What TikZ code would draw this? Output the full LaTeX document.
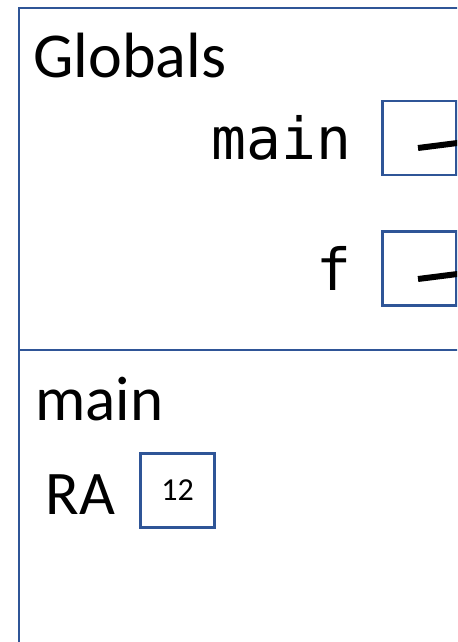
\documentclass[tikz,border=0pt]{standalone}
\usepackage{fontspec}
\setmainfont{Carlito}
\newfontfamily\monofuente{DejaVu Sans Mono}
\usetikzlibrary{positioning}
\definecolor{figMarco}{RGB}{47,85,151}
\tikzset{
  celda/.style={
    rectangle, draw=figMarco, line width=1.1pt,
    minimum width=37pt, minimum height=37pt, inner sep=0pt,
    font=\fontsize{16}{18}\selectfont
  },
  marco/.style={draw=figMarco, line width=1.4pt},
  etiqueta/.style={inner sep=0pt, font=\fontsize{32}{38}\selectfont},
  etiquetam/.style={inner sep=0pt, font=\monofuente\fontsize{29}{35}\selectfont},
  puntero/.style={line width=3pt, draw=black}
}
\begin{document}
\begin{tikzpicture}[x=0.5pt, y=-0.5pt, node distance=15pt]
  \useasboundingbox (0,0) rectangle (457,642);
  \clip (0,0) rectangle (457,642);
  % marco de la pila
  \coordinate (esqsup) at (19,8);
  \draw[marco] (19,700) -- (esqsup) -- (480,8);
  \draw[marco] (19,350) -- (480,350);
  % globales
  \node[etiqueta, anchor=base west] (globals) at (33,78) {Globals};
  \node[celda] (cmain) at (419.5,138) {};
  \node[etiquetam, left=of cmain] (lmain) {main};
  \node[celda] (cf) at (419.5,268.5) {};
  \node[etiquetam, left=of cf] (lf) {f};
  \coordinate (pmain) at (418,148);
  \coordinate (qmain) at (500,137.6);
  \coordinate (pf) at (418,279);
  \coordinate (qf) at (500,268.6);
  \draw[puntero] (pmain) -- (qmain);
  \draw[puntero] (pf) -- (qf);
  % marco de main
  \node[etiqueta, font=\fontsize{31.5}{37}\selectfont, anchor=base west] (lmarco) at (35,420) {main};
  \node[etiqueta, font=\fontsize{31}{36}\selectfont, anchor=base west] (lra) at (45,514) {RA};
  \node[celda] (cra) at (177.5,490.5) {12};
\end{tikzpicture}
\end{document}
